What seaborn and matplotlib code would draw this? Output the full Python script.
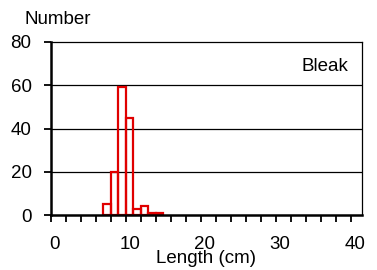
import matplotlib
matplotlib.use("Agg")
import matplotlib.pyplot as plt
import matplotlib.transforms as mtransforms
import seaborn as sns
import pandas as pd
import numpy as np

lengths = [7, 8, 9, 10, 11, 12, 13, 14]
counts = [5, 20, 59, 45, 3, 4, 1, 1]
species = "Bleak"
x_ticklabels = [0, 10, 20, 30, 40]
y_ticks = [0, 20, 40, 60, 80]

sns.set_style("white")
plt.rcParams['font.family'] = ['Liberation Sans', 'DejaVu Sans']
plt.rcParams['text.color'] = 'black'
plt.rcParams['axes.labelcolor'] = 'black'
plt.rcParams['xtick.color'] = 'black'
plt.rcParams['ytick.color'] = 'black'

df = pd.DataFrame({"length": lengths, "count": counts})

fig = plt.figure(figsize=(3.77, 2.70), dpi=100)
ax = fig.add_axes([51/377, 1 - 215/270, (362-51)/377, (215-42)/270])

sns.histplot(data=df, x="length", weights="count", binwidth=1, binrange=(7, 15),
             element="bars", fill=False, color="#e00000", linewidth=1.6, ax=ax)

for y in y_ticks[1:-1]:
    ax.axhline(y, color="black", linewidth=0.9, zorder=0)

fs = 13.5
ax.set_xlim(0, 41.5)
ax.set_ylim(0, 80)
ax.set_xticks(np.arange(0, 41, 2))
ax.set_xticklabels([str(v) if v in x_ticklabels else "" for v in range(0, 41, 2)])
ax.set_yticks(y_ticks)
ax.tick_params(axis="both", direction="out", length=5, width=1.3, labelsize=fs,
               color="black", labelcolor="black", bottom=True, left=True)
ax.tick_params(axis="x", pad=10)
ax.tick_params(axis="y", pad=9)
offset = mtransforms.ScaledTranslation(4/100, 0, fig.dpi_scale_trans)
for lab in ax.get_xticklabels():
    lab.set_transform(lab.get_transform() + offset)
for s in ax.spines.values():
    s.set_color("black")
    s.set_linewidth(0.9)
ax.spines["left"].set_linewidth(1.8)
ax.spines["bottom"].set_linewidth(1.8)

ax.set_xlabel("Length (cm)", fontsize=fs, labelpad=-2, color="black")
ax.set_ylabel("")
fig.text(24/377, 1 - 19/270, "Number", fontsize=fs, va="center", ha="left", color="black")
ax.text(0.955, 0.86, species, transform=ax.transAxes, ha="right", va="center",
        fontsize=fs, color="black")

fig.savefig("out.png", dpi=100)
